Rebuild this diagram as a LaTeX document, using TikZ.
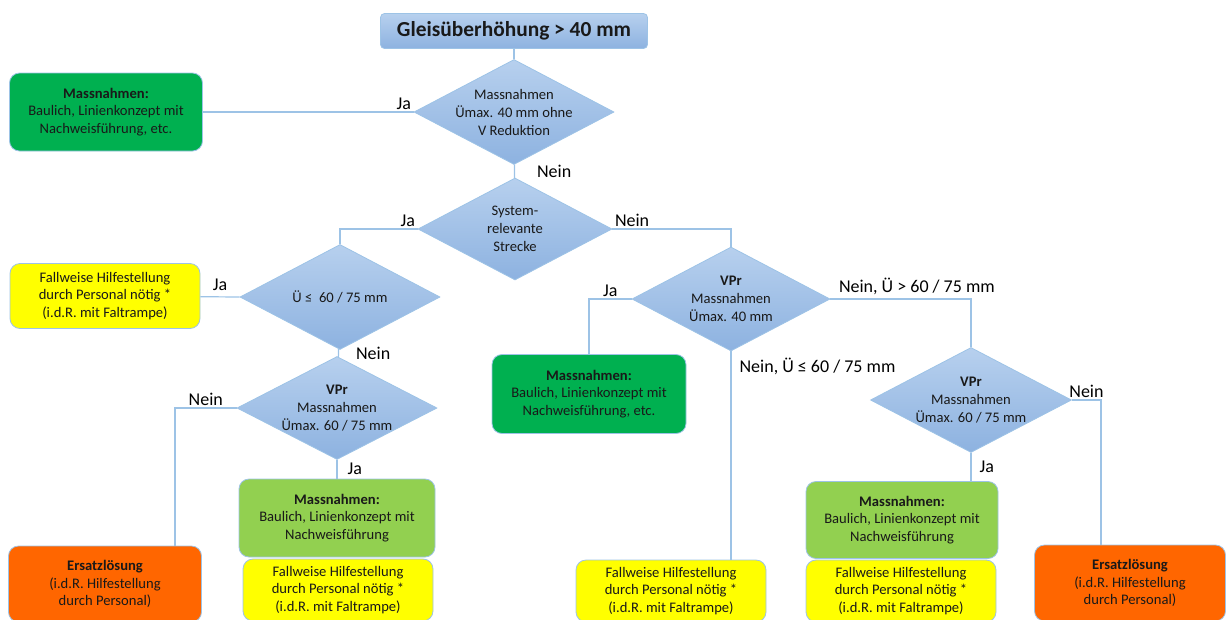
\documentclass[tikz,border=0pt]{standalone}
\usepackage{fontspec}
\setmainfont{Carlito}
\usepackage{tikz}
\usetikzlibrary{shapes.geometric,positioning}
\definecolor{linec}{RGB}{157,195,230}
\definecolor{dtop}{RGB}{183,208,238}
\definecolor{dbot}{RGB}{141,178,224}
\definecolor{gdark}{RGB}{0,176,80}
\definecolor{glight}{RGB}{146,208,80}
\definecolor{yel}{RGB}{255,255,0}
\definecolor{orng}{RGB}{255,102,0}
\definecolor{txt}{RGB}{25,25,25}

\begin{document}
\begin{tikzpicture}[x=1pt,y=-1pt,
  box/.style={rounded corners=10pt,draw=linec,line width=0.8pt,align=center,inner sep=2pt,
    text=txt,font=\fontsize{14.6}{17.5}\selectfont},
  dec/.style={diamond,draw=linec,line width=0.8pt,top color=dtop,bottom color=dbot,
    inner sep=-4pt,aspect=1.9,align=center,text=txt,font=\fontsize{14.6}{18}\selectfont},
  conn/.style={draw=linec,line width=1.2pt},
  lbl/.style={font=\fontsize{18}{20}\selectfont,text=black,inner sep=2pt}]
\useasboundingbox (0,0) rectangle (1227,619);

% start and decisions
\node[box,rounded corners=4pt,top color=dtop,bottom color=dbot,minimum width=267pt,minimum height=35pt,
  font=\fontsize{21.4}{24}\selectfont\bfseries] (start) at (514,31) {Gleisüberhöhung > 40 mm};
\node[dec,minimum width=200pt,minimum height=105pt] (d1) at (514,112) {Massnahmen\\Ümax. 40 mm ohne\\V Reduktion};
\node[dec,minimum width=194pt,minimum height=102pt] (d2) at (515,229) {System-\\relevante\\Strecke};
\node[dec,minimum width=200pt,minimum height=105pt] (d3) at (340,297) {Ü ≤~ 60 / 75 mm};
\node[dec,minimum width=200pt,minimum height=103pt] (d4) at (337,408) {\textbf{VPr}\\Massnahmen\\Ümax. 60 / 75 mm};
\node[dec,minimum width=198pt,minimum height=104pt] (d5) at (731,299) {\textbf{VPr}\\Massnahmen\\Ümax. 40 mm};
\node[dec,minimum width=201pt,minimum height=105pt] (d6) at (971,400) {\textbf{VPr}\\Massnahmen\\Ümax. 60 / 75 mm};

% outcomes
\node[box,fill=gdark,minimum width=193pt,minimum height=78pt] (gr1) at (106,112)
  {\textbf{Massnahmen:}\\Baulich, Linienkonzept mit\\Nachweisführung, etc.};
\node[box,fill=yel,minimum width=190pt,minimum height=65pt] (ye1) at (105,296)
  {Fallweise Hilfestellung\\durch Personal nötig *\\(i.d.R. mit Faltrampe)};
\node[box,fill=glight,minimum width=196pt,minimum height=78pt] (gr2) at (337,518)
  {\textbf{Massnahmen:}\\Baulich, Linienkonzept mit\\Nachweisführung};
\node[box,fill=yel,minimum width=190pt,minimum height=62pt] (ye2) at (338,590)
  {Fallweise Hilfestellung\\durch Personal nötig *\\(i.d.R. mit Faltrampe)};
\node[box,fill=orng,minimum width=193pt,minimum height=76pt] (or1) at (105,584)
  {\textbf{Ersatzlösung}\\(i.d.R. Hilfestellung\\durch Personal)};
\node[box,fill=gdark,minimum width=194pt,minimum height=79pt] (gr3) at (589,394)
  {\textbf{Massnahmen:}\\Baulich, Linienkonzept mit\\Nachweisführung, etc.};
\node[box,fill=yel,minimum width=190pt,minimum height=62pt] (ye3) at (671,591)
  {Fallweise Hilfestellung\\durch Personal nötig *\\(i.d.R. mit Faltrampe)};
\node[box,fill=glight,minimum width=192pt,minimum height=77pt] (gr4) at (902,520)
  {\textbf{Massnahmen:}\\Baulich, Linienkonzept mit\\Nachweisführung};
\node[box,fill=yel,minimum width=190pt,minimum height=62pt] (ye4) at (901,591)
  {Fallweise Hilfestellung\\durch Personal nötig *\\(i.d.R. mit Faltrampe)};
\node[box,fill=orng,minimum width=191pt,minimum height=76pt] (or2) at (1130,583)
  {\textbf{Ersatzlösung}\\(i.d.R. Hilfestellung\\durch Personal)};

% connectors
\draw[conn] (start) -- (d1);
\draw[conn] (d1.west) -- node[lbl,above left,pos=0]{Ja} (gr1);
\draw[conn] (d1) -- node[lbl,right=20pt]{Nein} (d2);
\draw[conn] (d2.west) -| node[lbl,above left,pos=0]{Ja} (d3.north);
\draw[conn] (d2.east) -| node[lbl,above right,pos=0]{Nein} (d5.north);
\draw[conn] (d3.west) -- node[lbl,above=4pt]{Ja} (ye1);
\draw[conn] (d3) -- node[lbl,right=15pt]{Nein} (d4);
\draw[conn] (d4.west) -| node[lbl,above,pos=0.25]{Nein} ([xshift=70pt]or1.north);
\draw[conn] (d4) -- node[lbl,right=8pt]{Ja} (gr2);
\draw[conn] (d5.west) -| node[lbl,above,pos=0.25]{Ja} (gr3.north);
\draw[conn] (d5.east) -| node[lbl,above right=2pt and 6pt,pos=0]{Nein, Ü > 60 / 75 mm} (d6.north);
\draw[conn] (d5.south) -- node[lbl,right=6pt,pos=0.07]{Nein, Ü ≤ 60 / 75 mm} (d5.south |- ye3.north);
\draw[conn] (d6.east) -| node[lbl,above,pos=0.25]{Nein} ([xshift=-29pt]or2.north);
\draw[conn] (d6.south) -- node[lbl,right=6pt]{Ja} (d6.south |- gr4.north);
\end{tikzpicture}
\end{document}
